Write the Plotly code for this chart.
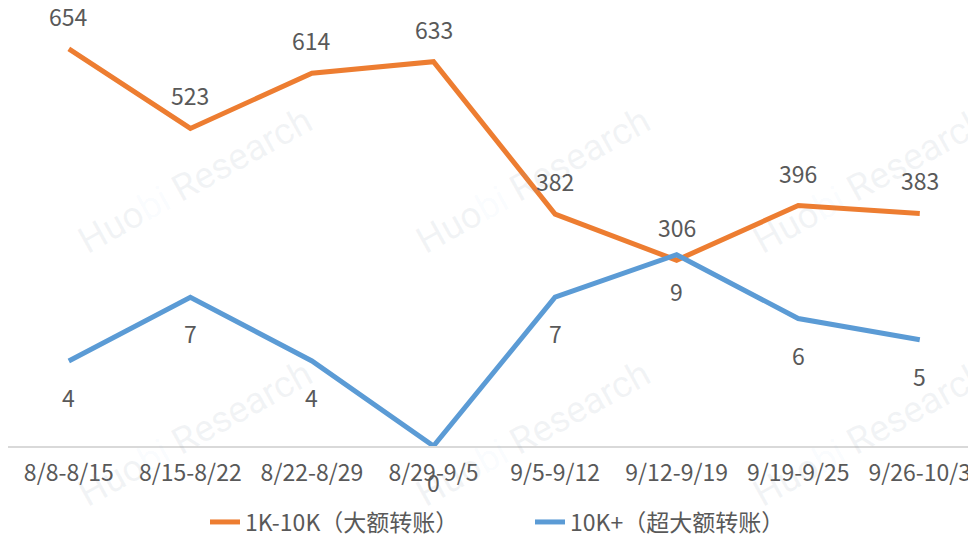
import plotly.graph_objects as go

categories = ["8/8-8/15", "8/15-8/22", "8/22-8/29", "8/29-9/5",
              "9/5-9/12", "9/12-9/19", "9/19-9/25", "9/26-10/3"]
large_transfers = [654, 523, 614, 633, 382, 306, 396, 383]   # 1K-10K
huge_transfers = [4, 7, 4, 0, 7, 9, 6, 5]                    # 10K+
series_names = ["1K-10K（大额转账）", "10K+（超大额转账）"]

ORANGE = "#ED7D31"
BLUE = "#5B9BD5"
TXT = "#595959"
FONT = "Noto Sans CJK SC"
FS = 23

# the page body has an 8px margin, so the figure sits at (8, 8) in the window
OFF = 8
W, H = 976 - OFF, 539 - OFF
ML, MR, MT, MB = 0, 0, 21 - OFF, 539 - 446
PW = W - ML - MR
PH = H - MT - MB
STEP = 121.57  # px per category in the reference

fig = go.Figure()
fig.add_trace(go.Scatter(x=categories, y=large_transfers, name=series_names[0],
                         mode="lines", line=dict(color=ORANGE, width=5),
                         yaxis="y", hoverinfo="x+y"))
fig.add_trace(go.Scatter(x=categories, y=huge_transfers, name=series_names[1],
                         mode="lines", line=dict(color=BLUE, width=5),
                         yaxis="y2", hoverinfo="x+y"))

annotations = []
# faint watermark (screen pixel positions -> paper coords)
def px2paper(px, py):
    return (px - OFF - ML) / PW, (446 - py) / PH

wm_text = "Huo<span style='color:rgba(110,175,235,0.35)'>bi</span> Research"
for cy in (180, 433):
    for cx in (195, 533, 870):
        xp, yp = px2paper(cx, cy)
        annotations.append(dict(x=xp, y=yp, xref="paper", yref="paper",
                                xanchor="center", yanchor="middle",
                                text=wm_text, showarrow=False, textangle=-29,
                                font=dict(family="Roboto", size=37,
                                          color="rgba(150,160,175,0.12)")))

for c, v in zip(categories, large_transfers):
    annotations.append(dict(x=c, y=v, xref="x", yref="y", text=str(v),
                            showarrow=False, yshift=33,
                            font=dict(family=FONT, size=FS, color=TXT)))
for c, v in zip(categories, huge_transfers):
    annotations.append(dict(x=c, y=v, xref="x", yref="y2", text=str(v),
                            showarrow=False, yshift=-36,
                            font=dict(family=FONT, size=FS, color=TXT)))

lx, ly = px2paper(197 + OFF, 522)

fig.update_layout(
    template="none",
    width=W, height=H,
    margin=dict(l=ML, r=MR, t=MT, b=MB, pad=0, autoexpand=False),
    paper_bgcolor="white", plot_bgcolor="white",
    font=dict(family=FONT, size=FS, color=TXT),
    xaxis=dict(type="category", range=[-0.5, -0.5 + PW / STEP],
               automargin=False,
               showline=True, linecolor="#D9D9D9", linewidth=1.5,
               showgrid=False, zeroline=False, ticks="",
               ticklabelstandoff=6,
               tickfont=dict(family=FONT, size=FS, color=TXT)),
    yaxis=dict(range=[0, 700], showgrid=False, zeroline=False, automargin=False,
               showticklabels=False, showline=False),
    yaxis2=dict(range=[0, 20], overlaying="y", side="right", showgrid=False,
                automargin=False,
                zeroline=False, showticklabels=False, showline=False),
    showlegend=True,
    legend=dict(orientation="h", x=lx, xanchor="left",
                y=ly, yanchor="middle",
                entrywidth=280,
                font=dict(family=FONT, size=FS, color=TXT),
                bgcolor="rgba(0,0,0,0)"),
    annotations=annotations,
)

fig.write_html("out.html")
